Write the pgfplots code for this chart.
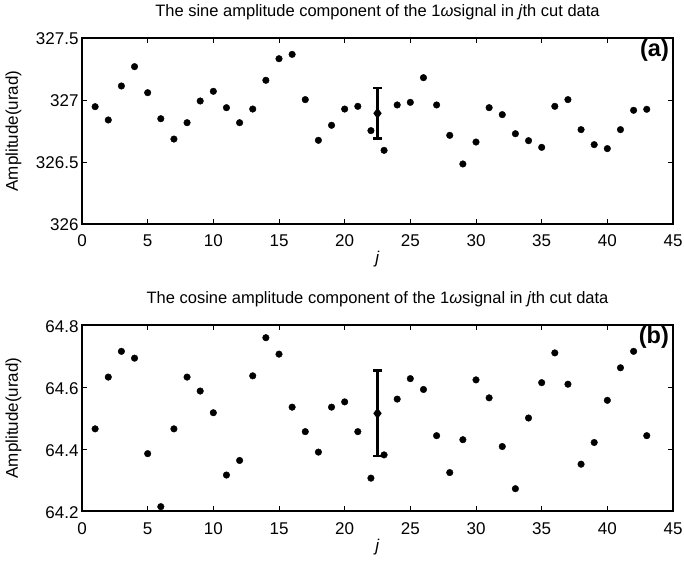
\documentclass[border=0pt]{standalone}
\usepackage{fontspec}
\setmainfont{Liberation Sans}
\usepackage{pgfplots}
\pgfplotsset{compat=1.18}
\pgfplotsset{
  mystyle/.style={
    scale only axis, width=591pt, height=186pt,
    anchor=south west,
    xmin=0, xmax=45, xtick={0,5,...,45},
    tick align=inside, tick pos=both,
    axis line style={line width=1.3pt},
    major tick length=5pt,
    every tick/.style={black, line width=0.8pt},
    /pgf/number format/assume math mode=true,
    tick label style={font=\fontsize{17}{17}\selectfont},
    xticklabel style={anchor=base, yshift=-23pt},
    label style={font=\fontsize{17}{17}\selectfont},
    title style={font=\fontsize{16.5}{16.5}\selectfont, at={(axis description cs:0.5,1)}, anchor=base, yshift=15pt},
    xlabel={\textit{j}},
    ylabel={Amplitude(urad)},
    xlabel style={at={(axis description cs:0.5,0)}, anchor=base, yshift=-40pt},
    ylabel style={at={(axis description cs:-0.1083,0.5)}, anchor=base},
    clip=false,
  },
  pts/.style={only marks, mark=*, mark size=3.3pt, black},
  eb/.style={black, line width=2.5pt, mark=diamond*, mark size=3.5pt,
    error bars/.cd, y dir=both, y explicit, error bar style={line width=2.5pt},
    error mark options={rotate=90, mark size=4.5pt, line width=2.5pt}},
}
\begin{document}
\begin{tikzpicture}[x=1pt,y=1pt]
\path[use as bounding box] (0,0) rectangle (684,565);
\begin{axis}[mystyle, at={(82pt,341pt)},
  ymin=326, ymax=327.5, ytick={326,326.5,327,327.5},
  yticklabels={326,326.5,327,327.5},
  yticklabel style={yshift=-1pt},
  title={The sine amplitude component of the 1\textit{ω}signal in \textit{j}th cut data}]
\addplot[pts] coordinates {
(1,326.946)(2,326.839)(3,327.113)(4,327.269)(5,327.059)(6,326.849)(7,326.685)(8,326.817)(9,326.992)(10,327.070)
(11,326.938)(12,326.817)(13,326.927)(14,327.159)(15,327.333)(16,327.368)(17,327.003)(18,326.675)(19,326.796)(20,326.927)
(21,326.949)(22,326.753)(23,326.594)(24,326.960)(25,326.981)(26,327.180)(27,326.960)(28,326.715)(29,326.484)(30,326.661)
(31,326.938)(32,326.882)(33,326.728)(34,326.672)(35,326.618)(36,326.949)(37,327.003)(38,326.761)(39,326.640)(40,326.608)
(41,326.761)(42,326.917)(43,326.925)};
\addplot[eb] coordinates {(22.5,326.893) +- (0,0.205)};
\node[anchor=north east, font=\bfseries\fontsize{23.5}{23.5}\selectfont, inner sep=1pt] at (rel axis cs:0.995,1.0) {(a)};
\end{axis}
\begin{axis}[mystyle, at={(82pt,54pt)},
  ymin=64.2, ymax=64.8, ytick={64.2,64.4,64.6,64.8},
  yticklabels={64.2,64.4,64.6,64.8},
  yticklabel style={yshift=-1.5pt},
  title={The cosine amplitude component of the 1\textit{ω}signal in \textit{j}th cut data}]
\addplot[pts] coordinates {
(1,64.465)(2,64.632)(3,64.715)(4,64.693)(5,64.385)(6,64.214)(7,64.465)(8,64.632)(9,64.587)(10,64.517)
(11,64.316)(12,64.363)(13,64.636)(14,64.759)(15,64.706)(16,64.535)(17,64.456)(18,64.390)(19,64.535)(20,64.552)
(21,64.456)(22,64.306)(23,64.381)(24,64.561)(25,64.627)(26,64.592)(27,64.443)(28,64.324)(29,64.430)(30,64.623)
(31,64.565)(32,64.408)(33,64.272)(34,64.500)(35,64.614)(36,64.710)(37,64.609)(38,64.351)(39,64.421)(40,64.557)
(41,64.662)(42,64.715)(43,64.443)};
\addplot[eb] coordinates {(22.5,64.515) +- (0,0.138)};
\node[anchor=north east, font=\bfseries\fontsize{23.5}{23.5}\selectfont, inner sep=1pt] at (rel axis cs:0.995,1.0) {(b)};
\end{axis}
\end{tikzpicture}
\end{document}
